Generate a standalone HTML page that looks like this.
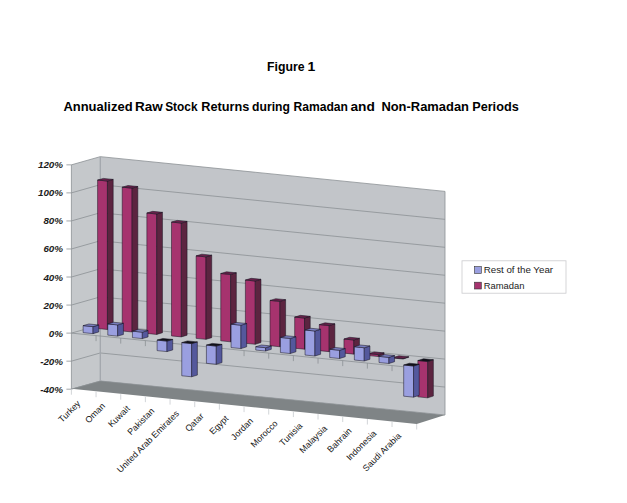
<!DOCTYPE html>
<html><head><meta charset="utf-8"><title>Figure 1</title>
<style>
html,body{margin:0;padding:0;background:#fff;}
body{width:627px;height:503px;overflow:hidden;}
svg{display:block;font-family:"Liberation Sans",sans-serif;}
</style></head><body>
<svg width="627" height="503" viewBox="0 0 627 503">
<rect width="627" height="503" fill="#fff"/>
<polygon points="71.40,164.85 100.30,156.65 100.30,381.00 71.40,389.20" fill="#c5c8cb"/>
<polygon points="100.30,156.65 445.00,191.40 445.00,415.00 100.30,381.00" fill="#c2c5c9"/>
<polygon points="71.40,388.70 100.30,380.70 445.00,415.00 416.70,424.00" fill="#7f8486"/>
<polyline points="71.40,389.20 100.30,381.00 445.00,415.00" fill="none" stroke="#8c9094" stroke-width="0.8"/>
<line x1="66.40" y1="389.20" x2="71.40" y2="389.20" stroke="#8c9094" stroke-width="0.8"/>
<polyline points="71.40,361.16 100.30,352.96 445.00,387.05" fill="none" stroke="#8c9094" stroke-width="0.8"/>
<line x1="66.40" y1="361.16" x2="71.40" y2="361.16" stroke="#8c9094" stroke-width="0.8"/>
<polyline points="71.40,333.11 100.30,324.91 445.00,359.10" fill="none" stroke="#8c9094" stroke-width="0.8"/>
<line x1="66.40" y1="333.11" x2="71.40" y2="333.11" stroke="#8c9094" stroke-width="0.8"/>
<polyline points="71.40,305.07 100.30,296.87 445.00,331.15" fill="none" stroke="#8c9094" stroke-width="0.8"/>
<line x1="66.40" y1="305.07" x2="71.40" y2="305.07" stroke="#8c9094" stroke-width="0.8"/>
<polyline points="71.40,277.02 100.30,268.82 445.00,303.20" fill="none" stroke="#8c9094" stroke-width="0.8"/>
<line x1="66.40" y1="277.02" x2="71.40" y2="277.02" stroke="#8c9094" stroke-width="0.8"/>
<polyline points="71.40,248.98 100.30,240.78 445.00,275.25" fill="none" stroke="#8c9094" stroke-width="0.8"/>
<line x1="66.40" y1="248.98" x2="71.40" y2="248.98" stroke="#8c9094" stroke-width="0.8"/>
<polyline points="71.40,220.94 100.30,212.74 445.00,247.30" fill="none" stroke="#8c9094" stroke-width="0.8"/>
<line x1="66.40" y1="220.94" x2="71.40" y2="220.94" stroke="#8c9094" stroke-width="0.8"/>
<polyline points="71.40,192.89 100.30,184.69 445.00,219.35" fill="none" stroke="#8c9094" stroke-width="0.8"/>
<line x1="66.40" y1="192.89" x2="71.40" y2="192.89" stroke="#8c9094" stroke-width="0.8"/>
<polyline points="71.40,164.85 100.30,156.65 445.00,191.40" fill="none" stroke="#8c9094" stroke-width="0.8"/>
<line x1="66.40" y1="164.85" x2="71.40" y2="164.85" stroke="#8c9094" stroke-width="0.8"/>
<polyline points="71.40,164.85 71.40,389.20" fill="none" stroke="#8c9094" stroke-width="0.8"/>
<polyline points="100.30,156.65 100.30,381.00" fill="none" stroke="#a2a6ac" stroke-width="1.3"/>
<polyline points="445.00,191.40 445.00,415.00" fill="none" stroke="#8c9094" stroke-width="0.8"/>
<polyline points="71.40,333.11 416.70,368.10" fill="none" stroke="#8c9094" stroke-width="0.8"/>
<line x1="96.06" y1="335.61" x2="96.06" y2="341.11" stroke="#8c9094" stroke-width="0.8"/>
<line x1="120.73" y1="338.11" x2="120.73" y2="343.61" stroke="#8c9094" stroke-width="0.8"/>
<line x1="145.39" y1="340.61" x2="145.39" y2="346.11" stroke="#8c9094" stroke-width="0.8"/>
<line x1="170.06" y1="343.11" x2="170.06" y2="348.61" stroke="#8c9094" stroke-width="0.8"/>
<line x1="194.72" y1="345.61" x2="194.72" y2="351.11" stroke="#8c9094" stroke-width="0.8"/>
<line x1="219.39" y1="348.11" x2="219.39" y2="353.61" stroke="#8c9094" stroke-width="0.8"/>
<line x1="244.05" y1="350.61" x2="244.05" y2="356.11" stroke="#8c9094" stroke-width="0.8"/>
<line x1="268.71" y1="353.11" x2="268.71" y2="358.61" stroke="#8c9094" stroke-width="0.8"/>
<line x1="293.38" y1="355.60" x2="293.38" y2="361.10" stroke="#8c9094" stroke-width="0.8"/>
<line x1="318.04" y1="358.10" x2="318.04" y2="363.60" stroke="#8c9094" stroke-width="0.8"/>
<line x1="342.71" y1="360.60" x2="342.71" y2="366.10" stroke="#8c9094" stroke-width="0.8"/>
<line x1="367.37" y1="363.10" x2="367.37" y2="368.60" stroke="#8c9094" stroke-width="0.8"/>
<line x1="392.04" y1="365.60" x2="392.04" y2="371.10" stroke="#8c9094" stroke-width="0.8"/>
<line x1="416.70" y1="368.10" x2="416.70" y2="373.60" stroke="#8c9094" stroke-width="0.8"/>
<line x1="71.40" y1="389.20" x2="71.40" y2="394.70" stroke="#c6cace" stroke-width="0.8"/>
<line x1="96.06" y1="391.69" x2="96.06" y2="397.19" stroke="#c6cace" stroke-width="0.8"/>
<line x1="120.73" y1="394.17" x2="120.73" y2="399.67" stroke="#c6cace" stroke-width="0.8"/>
<line x1="145.39" y1="396.66" x2="145.39" y2="402.16" stroke="#c6cace" stroke-width="0.8"/>
<line x1="170.06" y1="399.14" x2="170.06" y2="404.64" stroke="#c6cace" stroke-width="0.8"/>
<line x1="194.72" y1="401.63" x2="194.72" y2="407.13" stroke="#c6cace" stroke-width="0.8"/>
<line x1="219.39" y1="404.11" x2="219.39" y2="409.61" stroke="#c6cace" stroke-width="0.8"/>
<line x1="244.05" y1="406.60" x2="244.05" y2="412.10" stroke="#c6cace" stroke-width="0.8"/>
<line x1="268.71" y1="409.09" x2="268.71" y2="414.59" stroke="#c6cace" stroke-width="0.8"/>
<line x1="293.38" y1="411.57" x2="293.38" y2="417.07" stroke="#c6cace" stroke-width="0.8"/>
<line x1="318.04" y1="414.06" x2="318.04" y2="419.56" stroke="#c6cace" stroke-width="0.8"/>
<line x1="342.71" y1="416.54" x2="342.71" y2="422.04" stroke="#c6cace" stroke-width="0.8"/>
<line x1="367.37" y1="419.03" x2="367.37" y2="424.53" stroke="#c6cace" stroke-width="0.8"/>
<line x1="392.04" y1="421.51" x2="392.04" y2="427.01" stroke="#c6cace" stroke-width="0.8"/>
<line x1="416.70" y1="424.00" x2="416.70" y2="429.50" stroke="#c6cace" stroke-width="0.8"/>
<polygon points="97.58,180.04 107.43,181.04 107.43,329.51 97.58,328.52" fill="#a6336e" stroke="#14101e" stroke-width="0.5" stroke-linejoin="round"/>
<polygon points="107.43,181.04 113.20,179.39 113.20,327.86 107.43,329.51" fill="#5c2440" stroke="#14101e" stroke-width="0.5" stroke-linejoin="round"/>
<polygon points="97.58,180.04 103.35,178.40 113.20,179.39 107.43,181.04" fill="#66224a" stroke="#14101e" stroke-width="0.5" stroke-linejoin="round"/>
<polygon points="122.21,187.16 132.07,188.16 132.07,331.97 122.21,330.98" fill="#a6336e" stroke="#14101e" stroke-width="0.5" stroke-linejoin="round"/>
<polygon points="132.07,188.16 137.83,186.50 137.83,330.31 132.07,331.97" fill="#5c2440" stroke="#14101e" stroke-width="0.5" stroke-linejoin="round"/>
<polygon points="122.21,187.16 127.98,185.51 137.83,186.50 132.07,188.16" fill="#66224a" stroke="#14101e" stroke-width="0.5" stroke-linejoin="round"/>
<polygon points="146.85,212.99 156.70,213.99 156.70,334.43 146.85,333.45" fill="#a6336e" stroke="#14101e" stroke-width="0.5" stroke-linejoin="round"/>
<polygon points="156.70,213.99 162.46,212.32 162.46,332.76 156.70,334.43" fill="#5c2440" stroke="#14101e" stroke-width="0.5" stroke-linejoin="round"/>
<polygon points="146.85,212.99 152.61,211.33 162.46,212.32 156.70,213.99" fill="#66224a" stroke="#14101e" stroke-width="0.5" stroke-linejoin="round"/>
<polygon points="171.49,222.07 181.34,223.06 181.34,336.89 171.49,335.91" fill="#a6336e" stroke="#14101e" stroke-width="0.5" stroke-linejoin="round"/>
<polygon points="181.34,223.06 187.09,221.38 187.09,335.21 181.34,336.89" fill="#5c2440" stroke="#14101e" stroke-width="0.5" stroke-linejoin="round"/>
<polygon points="171.49,222.07 177.24,220.39 187.09,221.38 181.34,223.06" fill="#66224a" stroke="#14101e" stroke-width="0.5" stroke-linejoin="round"/>
<polygon points="196.12,255.86 205.98,256.86 205.98,339.35 196.12,338.37" fill="#a6336e" stroke="#14101e" stroke-width="0.5" stroke-linejoin="round"/>
<polygon points="205.98,256.86 211.72,255.16 211.72,337.66 205.98,339.35" fill="#5c2440" stroke="#14101e" stroke-width="0.5" stroke-linejoin="round"/>
<polygon points="196.12,255.86 201.86,254.18 211.72,255.16 205.98,256.86" fill="#66224a" stroke="#14101e" stroke-width="0.5" stroke-linejoin="round"/>
<polygon points="220.76,273.47 230.61,274.46 230.61,341.82 220.76,340.83" fill="#a6336e" stroke="#14101e" stroke-width="0.5" stroke-linejoin="round"/>
<polygon points="230.61,274.46 236.34,272.76 236.34,340.11 230.61,341.82" fill="#5c2440" stroke="#14101e" stroke-width="0.5" stroke-linejoin="round"/>
<polygon points="220.76,273.47 226.49,271.77 236.34,272.76 230.61,274.46" fill="#66224a" stroke="#14101e" stroke-width="0.5" stroke-linejoin="round"/>
<polygon points="245.39,280.01 255.25,281.00 255.25,344.28 245.39,343.29" fill="#a6336e" stroke="#14101e" stroke-width="0.5" stroke-linejoin="round"/>
<polygon points="255.25,281.00 260.97,279.28 260.97,342.56 255.25,344.28" fill="#5c2440" stroke="#14101e" stroke-width="0.5" stroke-linejoin="round"/>
<polygon points="245.39,280.01 251.12,278.30 260.97,279.28 255.25,281.00" fill="#66224a" stroke="#14101e" stroke-width="0.5" stroke-linejoin="round"/>
<polygon points="270.03,300.40 279.89,301.39 279.89,346.74 270.03,345.75" fill="#a6336e" stroke="#14101e" stroke-width="0.5" stroke-linejoin="round"/>
<polygon points="279.89,301.39 285.60,299.66 285.60,345.01 279.89,346.74" fill="#5c2440" stroke="#14101e" stroke-width="0.5" stroke-linejoin="round"/>
<polygon points="270.03,300.40 275.75,298.68 285.60,299.66 279.89,301.39" fill="#66224a" stroke="#14101e" stroke-width="0.5" stroke-linejoin="round"/>
<polygon points="294.67,317.08 304.52,318.07 304.52,349.20 294.67,348.22" fill="#a6336e" stroke="#14101e" stroke-width="0.5" stroke-linejoin="round"/>
<polygon points="304.52,318.07 310.23,316.33 310.23,347.46 304.52,349.20" fill="#5c2440" stroke="#14101e" stroke-width="0.5" stroke-linejoin="round"/>
<polygon points="294.67,317.08 300.38,315.35 310.23,316.33 304.52,318.07" fill="#66224a" stroke="#14101e" stroke-width="0.5" stroke-linejoin="round"/>
<polygon points="319.30,324.59 329.16,325.57 329.16,351.66 319.30,350.68" fill="#a6336e" stroke="#14101e" stroke-width="0.5" stroke-linejoin="round"/>
<polygon points="329.16,325.57 334.86,323.82 334.86,349.91 329.16,351.66" fill="#5c2440" stroke="#14101e" stroke-width="0.5" stroke-linejoin="round"/>
<polygon points="319.30,324.59 325.00,322.84 334.86,323.82 329.16,325.57" fill="#66224a" stroke="#14101e" stroke-width="0.5" stroke-linejoin="round"/>
<polygon points="343.94,339.01 353.79,340.00 353.79,354.13 343.94,353.14" fill="#a6336e" stroke="#14101e" stroke-width="0.5" stroke-linejoin="round"/>
<polygon points="353.79,340.00 359.48,338.24 359.48,352.36 353.79,354.13" fill="#5c2440" stroke="#14101e" stroke-width="0.5" stroke-linejoin="round"/>
<polygon points="343.94,339.01 349.63,337.26 359.48,338.24 353.79,340.00" fill="#66224a" stroke="#14101e" stroke-width="0.5" stroke-linejoin="round"/>
<polygon points="368.58,353.64 378.43,354.63 378.43,356.59 368.58,355.60" fill="#a6336e" stroke="#14101e" stroke-width="0.5" stroke-linejoin="round"/>
<polygon points="378.43,354.63 384.11,352.86 384.11,354.81 378.43,356.59" fill="#5c2440" stroke="#14101e" stroke-width="0.5" stroke-linejoin="round"/>
<polygon points="368.58,353.64 374.26,351.88 384.11,352.86 378.43,354.63" fill="#66224a" stroke="#14101e" stroke-width="0.5" stroke-linejoin="round"/>
<polygon points="393.21,357.58 403.07,358.56 403.07,359.05 393.21,358.06" fill="#a6336e" stroke="#14101e" stroke-width="0.5" stroke-linejoin="round"/>
<polygon points="403.07,358.56 408.74,356.78 408.74,357.26 403.07,359.05" fill="#5c2440" stroke="#14101e" stroke-width="0.5" stroke-linejoin="round"/>
<polygon points="393.21,357.58 398.89,355.79 408.74,356.78 403.07,358.56" fill="#66224a" stroke="#14101e" stroke-width="0.5" stroke-linejoin="round"/>
<polygon points="417.85,360.53 427.70,361.51 427.70,397.85 417.85,396.87" fill="#a6336e" stroke="#14101e" stroke-width="0.5" stroke-linejoin="round"/>
<polygon points="427.70,361.51 433.37,359.71 433.37,396.05 427.70,397.85" fill="#5c2440" stroke="#14101e" stroke-width="0.5" stroke-linejoin="round"/>
<polygon points="417.85,360.53 423.52,358.73 433.37,359.71 427.70,361.51" fill="#101018" stroke="#14101e" stroke-width="0.5" stroke-linejoin="round"/>
<polygon points="83.13,325.62 93.00,326.62 93.00,333.63 83.13,332.63" fill="#9a9fe0" stroke="#14101e" stroke-width="0.5" stroke-linejoin="round"/>
<polygon points="93.00,326.62 98.77,324.97 98.77,331.98 93.00,333.63" fill="#54589c" stroke="#14101e" stroke-width="0.5" stroke-linejoin="round"/>
<polygon points="83.13,325.62 88.91,323.98 98.77,324.97 93.00,326.62" fill="#7a7fc0" stroke="#14101e" stroke-width="0.5" stroke-linejoin="round"/>
<polygon points="107.79,323.91 117.65,324.90 117.65,336.12 107.79,335.12" fill="#9a9fe0" stroke="#14101e" stroke-width="0.5" stroke-linejoin="round"/>
<polygon points="117.65,324.90 123.42,323.24 123.42,334.46 117.65,336.12" fill="#54589c" stroke="#14101e" stroke-width="0.5" stroke-linejoin="round"/>
<polygon points="107.79,323.91 113.56,322.25 123.42,323.24 117.65,324.90" fill="#7a7fc0" stroke="#14101e" stroke-width="0.5" stroke-linejoin="round"/>
<polygon points="132.45,331.16 142.31,332.16 142.31,338.61 132.45,337.61" fill="#9a9fe0" stroke="#14101e" stroke-width="0.5" stroke-linejoin="round"/>
<polygon points="142.31,332.16 148.07,330.49 148.07,336.94 142.31,338.61" fill="#54589c" stroke="#14101e" stroke-width="0.5" stroke-linejoin="round"/>
<polygon points="132.45,331.16 138.21,329.50 148.07,330.49 142.31,332.16" fill="#7a7fc0" stroke="#14101e" stroke-width="0.5" stroke-linejoin="round"/>
<polygon points="157.11,340.10 166.97,341.10 166.97,351.60 157.11,350.61" fill="#9a9fe0" stroke="#14101e" stroke-width="0.5" stroke-linejoin="round"/>
<polygon points="166.97,341.10 172.72,339.42 172.72,349.92 166.97,351.60" fill="#54589c" stroke="#14101e" stroke-width="0.5" stroke-linejoin="round"/>
<polygon points="157.11,340.10 162.86,338.42 172.72,339.42 166.97,341.10" fill="#101018" stroke="#14101e" stroke-width="0.5" stroke-linejoin="round"/>
<polygon points="181.76,342.59 191.63,343.59 191.63,376.78 181.76,375.79" fill="#9a9fe0" stroke="#14101e" stroke-width="0.5" stroke-linejoin="round"/>
<polygon points="191.63,343.59 197.37,341.89 197.37,375.09 191.63,376.78" fill="#54589c" stroke="#14101e" stroke-width="0.5" stroke-linejoin="round"/>
<polygon points="181.76,342.59 187.51,340.90 197.37,341.89 191.63,343.59" fill="#101018" stroke="#14101e" stroke-width="0.5" stroke-linejoin="round"/>
<polygon points="206.42,345.08 216.28,346.08 216.28,364.28 206.42,363.29" fill="#9a9fe0" stroke="#14101e" stroke-width="0.5" stroke-linejoin="round"/>
<polygon points="216.28,346.08 222.02,344.37 222.02,362.58 216.28,364.28" fill="#54589c" stroke="#14101e" stroke-width="0.5" stroke-linejoin="round"/>
<polygon points="206.42,345.08 212.16,343.38 222.02,344.37 216.28,346.08" fill="#101018" stroke="#14101e" stroke-width="0.5" stroke-linejoin="round"/>
<polygon points="231.08,324.19 240.94,325.19 240.94,348.57 231.08,347.57" fill="#9a9fe0" stroke="#14101e" stroke-width="0.5" stroke-linejoin="round"/>
<polygon points="240.94,325.19 246.67,323.47 246.67,346.85 240.94,348.57" fill="#54589c" stroke="#14101e" stroke-width="0.5" stroke-linejoin="round"/>
<polygon points="231.08,324.19 236.81,322.48 246.67,323.47 240.94,325.19" fill="#7a7fc0" stroke="#14101e" stroke-width="0.5" stroke-linejoin="round"/>
<polygon points="255.74,346.70 265.60,347.70 265.60,351.06 255.74,350.06" fill="#9a9fe0" stroke="#14101e" stroke-width="0.5" stroke-linejoin="round"/>
<polygon points="265.60,347.70 271.31,345.97 271.31,349.33 265.60,351.06" fill="#54589c" stroke="#14101e" stroke-width="0.5" stroke-linejoin="round"/>
<polygon points="255.74,346.70 261.45,344.98 271.31,345.97 265.60,347.70" fill="#7a7fc0" stroke="#14101e" stroke-width="0.5" stroke-linejoin="round"/>
<polygon points="280.40,337.44 290.26,338.44 290.26,353.55 280.40,352.55" fill="#9a9fe0" stroke="#14101e" stroke-width="0.5" stroke-linejoin="round"/>
<polygon points="290.26,338.44 295.96,336.70 295.96,351.81 290.26,353.55" fill="#54589c" stroke="#14101e" stroke-width="0.5" stroke-linejoin="round"/>
<polygon points="280.40,337.44 286.10,335.71 295.96,336.70 290.26,338.44" fill="#7a7fc0" stroke="#14101e" stroke-width="0.5" stroke-linejoin="round"/>
<polygon points="305.05,330.00 314.92,331.00 314.92,356.04 305.05,355.04" fill="#9a9fe0" stroke="#14101e" stroke-width="0.5" stroke-linejoin="round"/>
<polygon points="314.92,331.00 320.61,329.25 320.61,354.29 314.92,356.04" fill="#54589c" stroke="#14101e" stroke-width="0.5" stroke-linejoin="round"/>
<polygon points="305.05,330.00 310.75,328.25 320.61,329.25 314.92,331.00" fill="#7a7fc0" stroke="#14101e" stroke-width="0.5" stroke-linejoin="round"/>
<polygon points="329.71,349.28 339.57,350.28 339.57,358.53 329.71,357.54" fill="#9a9fe0" stroke="#14101e" stroke-width="0.5" stroke-linejoin="round"/>
<polygon points="339.57,350.28 345.26,348.52 345.26,356.77 339.57,358.53" fill="#54589c" stroke="#14101e" stroke-width="0.5" stroke-linejoin="round"/>
<polygon points="329.71,349.28 335.40,347.52 345.26,348.52 339.57,350.28" fill="#7a7fc0" stroke="#14101e" stroke-width="0.5" stroke-linejoin="round"/>
<polygon points="354.37,346.74 364.23,347.74 364.23,361.02 354.37,360.03" fill="#9a9fe0" stroke="#14101e" stroke-width="0.5" stroke-linejoin="round"/>
<polygon points="364.23,347.74 369.91,345.96 369.91,359.25 364.23,361.02" fill="#54589c" stroke="#14101e" stroke-width="0.5" stroke-linejoin="round"/>
<polygon points="354.37,346.74 360.05,344.97 369.91,345.96 364.23,347.74" fill="#7a7fc0" stroke="#14101e" stroke-width="0.5" stroke-linejoin="round"/>
<polygon points="379.03,356.36 388.89,357.36 388.89,363.51 379.03,362.52" fill="#9a9fe0" stroke="#14101e" stroke-width="0.5" stroke-linejoin="round"/>
<polygon points="388.89,357.36 394.56,355.58 394.56,361.73 388.89,363.51" fill="#54589c" stroke="#14101e" stroke-width="0.5" stroke-linejoin="round"/>
<polygon points="379.03,356.36 384.70,354.58 394.56,355.58 388.89,357.36" fill="#7a7fc0" stroke="#14101e" stroke-width="0.5" stroke-linejoin="round"/>
<polygon points="403.68,365.01 413.55,366.00 413.55,397.17 403.68,396.18" fill="#9a9fe0" stroke="#14101e" stroke-width="0.5" stroke-linejoin="round"/>
<polygon points="413.55,366.00 419.21,364.21 419.21,395.37 413.55,397.17" fill="#54589c" stroke="#14101e" stroke-width="0.5" stroke-linejoin="round"/>
<polygon points="403.68,365.01 409.35,363.21 419.21,364.21 413.55,366.00" fill="#101018" stroke="#14101e" stroke-width="0.5" stroke-linejoin="round"/>
<text x="63.0" y="392.6" text-anchor="end" font-size="9.8" font-weight="bold" font-style="italic" fill="#1c1c1c">-40%</text>
<text x="63.0" y="364.6" text-anchor="end" font-size="9.8" font-weight="bold" font-style="italic" fill="#1c1c1c">-20%</text>
<text x="63.0" y="336.6" text-anchor="end" font-size="9.8" font-weight="bold" font-style="italic" fill="#1c1c1c">0%</text>
<text x="63.0" y="308.5" text-anchor="end" font-size="9.8" font-weight="bold" font-style="italic" fill="#1c1c1c">20%</text>
<text x="63.0" y="280.5" text-anchor="end" font-size="9.8" font-weight="bold" font-style="italic" fill="#1c1c1c">40%</text>
<text x="63.0" y="252.4" text-anchor="end" font-size="9.8" font-weight="bold" font-style="italic" fill="#1c1c1c">60%</text>
<text x="63.0" y="224.4" text-anchor="end" font-size="9.8" font-weight="bold" font-style="italic" fill="#1c1c1c">80%</text>
<text x="63.0" y="196.3" text-anchor="end" font-size="9.8" font-weight="bold" font-style="italic" fill="#1c1c1c">100%</text>
<text x="63.0" y="168.3" text-anchor="end" font-size="9.8" font-weight="bold" font-style="italic" fill="#1c1c1c">120%</text>
<text transform="translate(81.0,404.1) rotate(-45)" text-anchor="end" font-size="8.85" fill="#161616">Turkey</text>
<text transform="translate(105.7,406.6) rotate(-45)" text-anchor="end" font-size="8.85" fill="#161616">Oman</text>
<text transform="translate(130.4,409.1) rotate(-45)" text-anchor="end" font-size="8.85" fill="#161616">Kuwait</text>
<text transform="translate(155.0,411.6) rotate(-45)" text-anchor="end" font-size="8.85" fill="#161616">Pakistan</text>
<text transform="translate(179.7,414.1) rotate(-45)" text-anchor="end" font-size="8.85" fill="#161616">United Arab Emirates</text>
<text transform="translate(204.4,416.6) rotate(-45)" text-anchor="end" font-size="8.85" fill="#161616">Qatar</text>
<text transform="translate(229.0,419.1) rotate(-45)" text-anchor="end" font-size="8.85" fill="#161616">Egypt</text>
<text transform="translate(253.7,421.5) rotate(-45)" text-anchor="end" font-size="8.85" fill="#161616">Jordan</text>
<text transform="translate(278.3,424.0) rotate(-45)" text-anchor="end" font-size="8.85" fill="#161616">Morocco</text>
<text transform="translate(303.0,426.5) rotate(-45)" text-anchor="end" font-size="8.85" fill="#161616">Tunisia</text>
<text transform="translate(327.7,429.0) rotate(-45)" text-anchor="end" font-size="8.85" fill="#161616">Malaysia</text>
<text transform="translate(352.3,431.5) rotate(-45)" text-anchor="end" font-size="8.85" fill="#161616">Bahrain</text>
<text transform="translate(377.0,434.0) rotate(-45)" text-anchor="end" font-size="8.85" fill="#161616">Indonesia</text>
<text transform="translate(401.7,436.5) rotate(-45)" text-anchor="end" font-size="8.85" fill="#161616">Saudi Arabia</text>
<rect x="462" y="260.8" width="104" height="32.4" fill="#fff" stroke="#cacace" stroke-width="0.8"/>
<rect x="474.5" y="266.6" width="6.8" height="6.8" fill="#9a9fe0" stroke="#333" stroke-width="0.6"/>
<rect x="474.5" y="282.2" width="6.8" height="6.8" fill="#a6336e" stroke="#333" stroke-width="0.6"/>
<text x="483.7" y="272.9" font-size="9.85" fill="#222" textLength="69.4" lengthAdjust="spacingAndGlyphs">Rest of the Year</text>
<text x="483.7" y="288.6" font-size="9.85" fill="#222" textLength="40.8" lengthAdjust="spacingAndGlyphs">Ramadan</text>
<text x="267.1" y="70.7" font-size="13.4" font-weight="bold" fill="#000" textLength="37.5" lengthAdjust="spacingAndGlyphs">Figure</text>
<text x="307.6" y="70.7" font-size="13.4" font-weight="bold" fill="#000" textLength="7.8" lengthAdjust="spacingAndGlyphs">1</text>
<text x="63.4" y="111.0" font-size="13.4" font-weight="bold" fill="#000" textLength="69.2" lengthAdjust="spacingAndGlyphs">Annualized</text>
<text x="135.0" y="111.0" font-size="13.4" font-weight="bold" fill="#000" textLength="27.8" lengthAdjust="spacingAndGlyphs">Raw</text>
<text x="165.2" y="111.0" font-size="13.4" font-weight="bold" fill="#000" textLength="32.4" lengthAdjust="spacingAndGlyphs">Stock</text>
<text x="201.2" y="111.0" font-size="13.4" font-weight="bold" fill="#000" textLength="48.1" lengthAdjust="spacingAndGlyphs">Returns</text>
<text x="252.1" y="111.0" font-size="13.4" font-weight="bold" fill="#000" textLength="37.8" lengthAdjust="spacingAndGlyphs">during</text>
<text x="293.4" y="111.0" font-size="13.4" font-weight="bold" fill="#000" textLength="54.6" lengthAdjust="spacingAndGlyphs">Ramadan</text>
<text x="350.4" y="111.0" font-size="13.4" font-weight="bold" fill="#000" textLength="24.4" lengthAdjust="spacingAndGlyphs">and</text>
<text x="381.4" y="111.0" font-size="13.4" font-weight="bold" fill="#000" textLength="87.6" lengthAdjust="spacingAndGlyphs">Non-Ramadan</text>
<text x="472.2" y="111.0" font-size="13.4" font-weight="bold" fill="#000" textLength="46.5" lengthAdjust="spacingAndGlyphs">Periods</text>
</svg>
</body></html>
